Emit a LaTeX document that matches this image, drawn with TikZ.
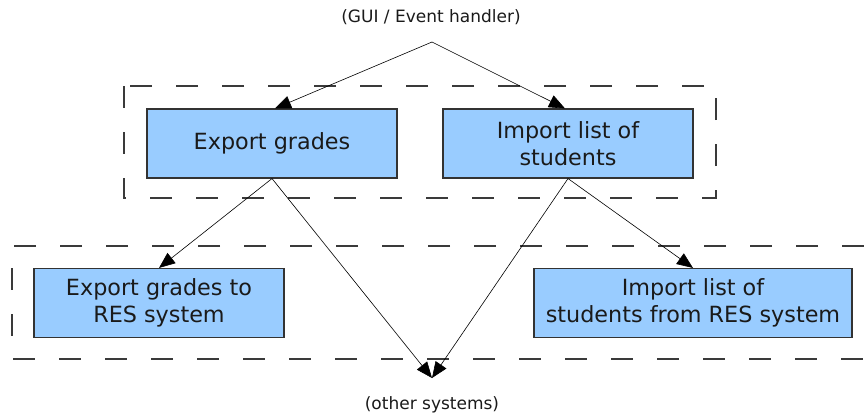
\documentclass[tikz,border=0pt]{standalone}
\usepackage{fontspec}
\setmainfont{DejaVu Sans}
\usetikzlibrary{arrows.meta}

\definecolor{boxfill}{HTML}{99CCFF}
\definecolor{boxline}{HTML}{333333}
\definecolor{groupline}{HTML}{3A3A3A}
\definecolor{ink}{HTML}{1A1A1A}

\tikzset{
  module/.style={draw=boxline, line width=1.1pt, fill=boxfill, text=ink,
    minimum height=69pt, inner sep=0pt, align=center,
    font=\fontsize{22.3}{26.7}\selectfont},
  endlabel/.style={text=ink, inner sep=0pt, font=\fontsize{17}{20}\selectfont},
  group/.style={draw=groupline, line width=1.1pt, dash pattern=on 22pt off 24pt},
  call/.style={draw=black, line width=0.6pt,
    -{Triangle[length=16pt,width=13pt]}}
}

\begin{document}
\begin{tikzpicture}[x=1pt,y=-1pt]
  \useasboundingbox (0,0) rectangle (864,416);

  % external parties
  \node[endlabel] (gui) at (431,17) {(GUI / Event handler)};
  \coordinate (guitail) at (432,42);
  \node[endlabel] (other) at (432,405) {(other systems)};
  \coordinate (othertip) at (432,378);

  % layer groupings
  \draw[group] (124,86) rectangle (716,198);
  \draw[group] (864,246) -- (12,246) -- (12,359) -- (864,359);

  % upper layer
  \node[module, minimum width=250pt] (export) at (272,143.5) {Export grades};
  \node[module, minimum width=250pt] (import) at (568,143.5) {Import list of\\students};

  % lower layer
  \node[module, minimum width=250pt] (exportres) at (159,303) {Export grades to\\RES system};
  \node[module, minimum width=318pt] (importres) at (693,303) {Import list of\\students from RES system};

  % calls
  \draw[call] (guitail) -- ([xshift=3pt]export.north);
  \draw[call] (guitail) -- ([xshift=-3pt]import.north);
  \draw[call] (export.south) -- (exportres.north);
  \draw[call] (export.south) -- (othertip);
  \draw[call] (import.south) -- (othertip);
  \draw[call] (import.south) -- (importres.north);
\end{tikzpicture}
\end{document}
